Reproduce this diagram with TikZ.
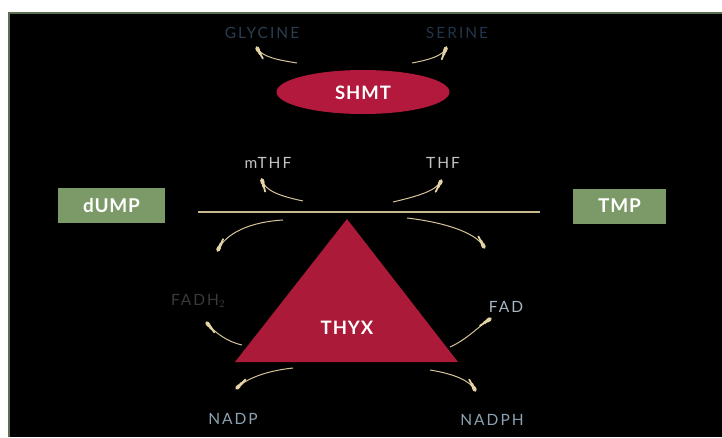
\documentclass[tikz,border=0pt]{standalone}
\usepackage{fontspec}
\setmainfont{Lato}
\usetikzlibrary{calc,shapes.geometric}
\definecolor{edgegreen}{HTML}{5E6E52}
\definecolor{crimson}{HTML}{B2193C}
\definecolor{tricol}{HTML}{AC1A3A}
\definecolor{boxgreen}{HTML}{7B9A68}
\definecolor{strokecol}{HTML}{D6C49A}
\definecolor{tipcol}{HTML}{E4D3A4}
\definecolor{linecol}{HTML}{C9B98E}
\definecolor{glycol}{HTML}{2A3E50}
\definecolor{sercol}{HTML}{22344A}
\definecolor{thfcol}{HTML}{C4C4C4}
\definecolor{fadhcol}{HTML}{3A3A3A}
\definecolor{fadcol}{HTML}{A8B6C4}
\definecolor{nadcol}{HTML}{8CA2B2}
\newcommand{\taper}[4]{%
  \draw[strokecol, line width=1.0] (#1) .. controls (#2) and (#3) .. (#4);
  \draw[tipcol, line width=1.8, line cap=round] ($(#4)!12pt!(#3)$) -- (#4);
  \draw[tipcol, line width=2.8, line cap=round] ($(#4)!7pt!(#3)$) -- (#4);
  \draw[tipcol, line width=3.8, line cap=round] ($(#4)!3pt!(#3)$) -- (#4);
}
\tikzset{
  lbl/.style={font=\fontsize{15.5}{17}\selectfont\addfontfeature{LetterSpace=13}, inner sep=0},
  enzyme/.style={text=white, font=\fontsize{18.5}{20}\selectfont\bfseries\addfontfeature{LetterSpace=5}, inner sep=0},
  sbox/.style={fill=boxgreen, text=white, minimum height=35, inner sep=0,
    font=\fontsize{19}{21}\selectfont\bfseries\addfontfeature{LetterSpace=4}},
}
\begin{document}
\begin{tikzpicture}[x=1pt,y=-1pt]
\useasboundingbox (0,0) rectangle (722,437);
\fill[white] (0,0) rectangle (722,437);
\fill[black] (8,13) rectangle (722,437);
\draw[edgegreen, line width=2] (8,13) -- (722,13);
\draw[edgegreen, line width=2] (9,13) -- (9,437);

% SHMT
\node[ellipse, fill=crimson, minimum width=173, minimum height=44, inner sep=0] (shmt) at (363,92) {};
\node[enzyme] (shmtlbl) at (363,93) {SHMT};

% labels
\node[lbl, text=glycol] (gly) at (262,33) {GLYCINE};
\node[lbl, text=sercol] (ser) at (457,33) {SERINE};
\node[lbl, text=thfcol] (mthf) at (268,163) {mTHF};
\node[lbl, text=thfcol] (thf) at (443,163) {THF};
\node[lbl, text=fadhcol] (fadh) at (198,301) {FADH$_2$};
\node[lbl, text=fadcol] (fad) at (506,307) {FAD};
\node[lbl, text=nadcol] (nadp) at (233,419) {NADP};
\node[lbl, text=nadcol] (nadph) at (492,420) {NADPH};

% boxes
\node[sbox, minimum width=107] (dump) at (111.5,205.5) {dUMP};
\node[sbox, minimum width=93] (tmp) at (619.5,206) {TMP};

% main line
\coordinate (lineL) at (198,212);
\coordinate (lineR) at (540,212);
\draw[linecol, line width=2] (lineL) -- (lineR);

% triangle
\coordinate (apex) at (347,219);
\coordinate (bl) at (235,362);
\coordinate (br) at (458,362);
\fill[tricol] (apex) -- (br) -- (bl) -- cycle;
\node[enzyme] (thyx) at (347,328) {THYX};

% curved strokes
\coordinate (g1) at (297,63);  \coordinate (g2) at (257,48);
\taper{g1}{278,60}{262,57}{g2}
\coordinate (s1) at (412,63);  \coordinate (s2) at (446,48);
\taper{s1}{428,60}{443,56}{s2}
\coordinate (m1) at (303,201); \coordinate (m2) at (262,180);
\taper{m1}{280,196}{265,191}{m2}
\coordinate (t1) at (393,202); \coordinate (t2) at (441,181);
\taper{t1}{418,196}{436,191}{t2}
\coordinate (l1) at (283,220); \coordinate (l2) at (218,250);
\taper{l1}{250,222}{226,233}{l2}
\coordinate (r1) at (407,218); \coordinate (r2) at (484,247);
\taper{r1}{442,222}{476,232}{r2}
\coordinate (fh1) at (242,345); \coordinate (fh2) at (207,323);
\taper{fh1}{228,342}{215,333}{fh2}
\coordinate (fa1) at (450,347); \coordinate (fa2) at (490,319);
\taper{fa1}{466,340}{478,327}{fa2}
\coordinate (n1) at (293,368); \coordinate (n2) at (237,388);
\taper{n1}{265,371}{246,379}{n2}
\coordinate (nh1) at (430,370); \coordinate (nh2) at (475,390);
\taper{nh1}{455,374}{470,381}{nh2}
\end{tikzpicture}
\end{document}
